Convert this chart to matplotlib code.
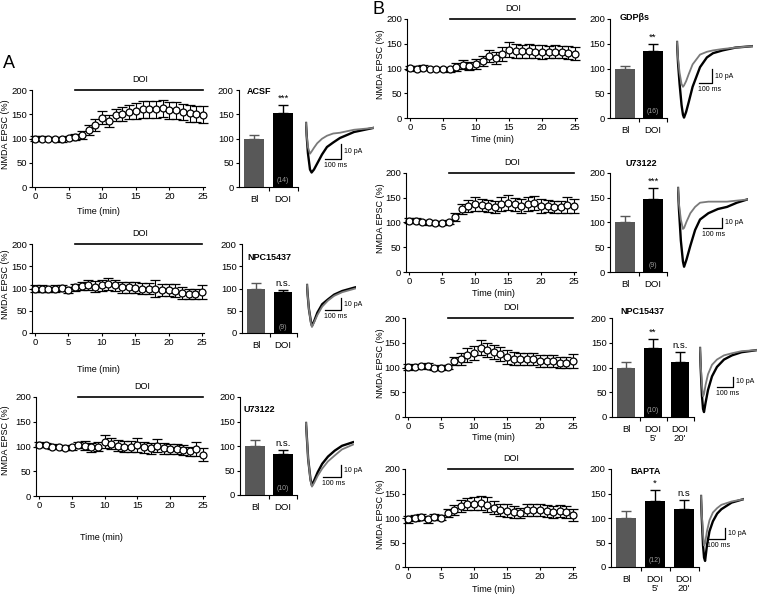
import matplotlib
matplotlib.use('Agg')
import matplotlib.pyplot as plt

plt.rcParams['font.family'] = ['Liberation Sans', 'DejaVu Sans']

# ---------------- data ----------------
time_min = list(range(26))

a1_mean = [100, 100, 100, 100, 98, 101, 103, 108, 118, 128, 143, 136, 148, 150, 155, 157, 160, 160, 160, 162, 158, 158, 155, 152, 150, 149]
a1_sem = [6, 5, 4, 4, 5, 5, 6, 8, 10, 12, 14, 12, 12, 14, 15, 16, 17, 17, 17, 17, 17, 17, 17, 17, 17, 18]
a2_mean = [100, 100, 98, 100, 101, 97, 103, 105, 108, 104, 107, 110, 107, 103, 103, 102, 100, 100, 100, 97, 97, 95, 90, 88, 88, 92]
a2_sem = [8, 7, 6, 7, 7, 7, 8, 9, 12, 12, 12, 13, 13, 12, 12, 12, 12, 12, 18, 14, 14, 14, 14, 12, 12, 15]
a3_mean = [104, 103, 100, 100, 96, 98, 103, 102, 98, 100, 110, 106, 102, 100, 100, 103, 98, 96, 102, 96, 95, 95, 93, 90, 95, 83]
a3_sem = [6, 5, 5, 4, 4, 5, 7, 10, 10, 10, 13, 12, 12, 12, 11, 15, 12, 12, 14, 12, 10, 10, 10, 10, 14, 13]
b1_mean = [101, 100, 102, 100, 100, 98, 98, 103, 108, 105, 110, 115, 125, 122, 130, 138, 135, 135, 136, 134, 134, 133, 134, 133, 132, 130]
b1_sem = [5, 5, 5, 4, 4, 4, 5, 8, 10, 9, 10, 10, 12, 12, 14, 15, 14, 13, 14, 13, 14, 12, 13, 12, 13, 13]
b2_mean = [104, 104, 101, 100, 99, 99, 101, 112, 127, 133, 138, 136, 133, 132, 137, 140, 137, 133, 137, 140, 133, 133, 132, 132, 136, 134]
b2_sem = [6, 6, 5, 5, 4, 4, 5, 8, 10, 12, 14, 12, 12, 12, 14, 15, 13, 14, 14, 14, 14, 12, 12, 12, 16, 14]
b3_mean = [101, 101, 103, 103, 99, 100, 101, 113, 118, 125, 130, 140, 135, 132, 128, 122, 118, 118, 117, 117, 114, 113, 114, 110, 110, 113]
b3_sem = [6, 5, 5, 6, 5, 5, 5, 8, 12, 14, 14, 15, 14, 14, 14, 14, 13, 12, 12, 12, 12, 12, 12, 12, 12, 14]
b4_mean = [97, 100, 102, 97, 102, 101, 110, 117, 124, 128, 129, 130, 127, 121, 116, 115, 112, 110, 117, 116, 116, 114, 113, 115, 113, 106]
b4_sem = [7, 6, 7, 7, 6, 6, 8, 10, 12, 12, 13, 14, 15, 13, 12, 13, 12, 11, 12, 12, 12, 12, 12, 12, 12, 12]

bar_labels_2 = ['Bl', 'DOI']
bar_labels_3 = ['Bl', "DOI\n5'", "DOI\n20'"]
a1_bar = [100, 152]; a1_bar_err = [8, 18]; a1_sig = ['', '***']; a1_n = '(14)'
a2_bar = [100, 92]; a2_bar_err = [12, 5]; a2_sig = ['', 'n.s.']; a2_n = '(9)'
a3_bar = [100, 83]; a3_bar_err = [13, 9]; a3_sig = ['', 'n.s.']; a3_n = '(10)'
b1_bar = [100, 136]; b1_bar_err = [6, 14]; b1_sig = ['', '**']; b1_n = '(16)'
b2_bar = [100, 147]; b2_bar_err = [14, 23]; b2_sig = ['', '***']; b2_n = '(9)'
b3_bar = [100, 139, 112]; b3_bar_err = [12, 18, 20]; b3_sig = ['', '**', 'n.s.']; b3_n = '(10)'
b4_bar = [100, 135, 118]; b4_bar_err = [14, 22, 18]; b4_sig = ['', '*', 'n.s']; b4_n = '(12)'

# example EPSC traces (ms, pA relative to start)
a1_t = [0, 4, 12, 25, 35, 50, 70, 100, 131, 170, 212, 300, 420]
a1_grey = [0, -8, -16, -20.5, -19, -16.5, -13.5, -10.5, -8.5, -7, -6.5, -4.5, -3.3]
a1_black = [0, -8, -20, -31, -33, -31, -27, -21, -16, -13, -10, -6, -3.3]
a2_t = [0, 4, 12, 25, 31, 45, 65, 95, 131, 170, 220, 300]
a2_grey = [0, -8, -20, -32, -35, -31, -25, -18, -13, -9, -6, -3]
a2_black = [0, -8, -20, -31, -34, -30, -23, -16, -12, -8, -5, -2]
a3_t = [0, 4, 12, 25, 33, 45, 65, 90, 122, 160, 200, 261]
a3_grey = [0, -10, -30, -48, -53, -50, -44, -38, -32, -27, -22, -18]
a3_black = [0, -10, -30, -47, -52, -48, -41, -34, -28, -23, -19, -16]
b1_t = [0, 8, 20, 35, 46, 54, 70, 90, 120, 177, 230, 277, 350, 450, 577]
b1_grey = [0, -12, -22, -30, -32, -31, -28, -23, -16, -9, -7, -6, -5, -4, -3]
b1_black = [0, -15, -30, -45, -52, -54, -50, -43, -32, -18, -11, -8, -6, -4, -3]
b2_t = [0, 5, 15, 26, 32, 45, 65, 90, 116, 160, 210, 258, 310, 363]
b2_grey = [0, -15, -30, -39, -38, -32, -24, -18, -14, -13, -13, -13, -12, -11]
b2_black = [0, -20, -50, -70, -75, -68, -55, -40, -30, -24, -20, -18, -14, -11]
b3_t = [0, 4, 12, 19, 25, 35, 50, 75, 106, 150, 200, 260, 356]
b3_grey = [0, -15, -35, -46, -44, -35, -25, -16, -11, -7, -5, -3, -2]
b3_black = [0, -18, -45, -58, -61, -52, -40, -27, -18, -11, -7, -4, -2]
b4_t = [0, 4, 12, 18, 24, 35, 50, 70, 95, 120, 180, 247]
b4_grey = [0, -15, -35, -45, -43, -32, -22, -15, -11, -8, -5, -3]
b4_black = [0, -18, -45, -56, -59, -45, -32, -23, -16, -12, -6, -3]

# ---------------- layout helpers ----------------
W, H = 757, 596
fig = plt.figure(figsize=(W / 100, H / 100), dpi=100)
fig.patch.set_facecolor('white')

BL_GREY = '#585858'
TR_GREY = '#7a7a7a'
FS_TICK = 6.8
FS_LAB = 6.5


def px_axes(l, t, r, b):
    return fig.add_axes([l / W, 1 - b / H, (r - l) / W, (b - t) / H])


def cal_axes(xlim, ylim, xd0, xp0, xd1, xp1, yd0, yp0, yd1, yp1):
    fx = lambda d: xp0 + (d - xd0) * (xp1 - xp0) / (xd1 - xd0)
    fy = lambda d: yp0 + (d - yd0) * (yp1 - yp0) / (yd1 - yd0)
    ax = px_axes(fx(xlim[0]), fy(ylim[1]), fx(xlim[1]), fy(ylim[0]))
    ax.set_xlim(xlim)
    ax.set_ylim(ylim)
    ax.patch.set_alpha(0)
    return ax


def ftext(x, y, s, **kw):
    fig.text(x / W, 1 - y / H, s, **kw)


def style(ax):
    for s in ('top', 'right'):
        ax.spines[s].set_visible(False)
    for s in ('left', 'bottom'):
        ax.spines[s].set_linewidth(0.8)


def time_panel(cal, mean, sem, ylab_y, tlab):
    x0, x25, y0, y200 = cal
    ax = cal_axes((-0.4, 25.3), (0, 200), 0, x0, 25, x25, 0, y0, 200, y200)
    style(ax)
    ax.errorbar(time_min, mean, yerr=sem, fmt='o', mfc='white', mec='black',
                mew=0.9, ms=5, ecolor='black', elinewidth=0.8, capsize=3.5,
                capthick=0.8, clip_on=False)
    ax.plot([6, 25], [201, 201], color='black', lw=1.2, clip_on=False)
    ax.annotate('DOI', (15.7, 201), xytext=(0, 7.5), textcoords='offset points',
                ha='center', va='center', fontsize=FS_LAB)
    ax.set_xticks([0, 5, 10, 15, 20, 25])
    ax.set_yticks([0, 50, 100, 150, 200])
    ax.tick_params(direction='out', length=2.5, width=0.8, labelsize=FS_TICK, pad=1.2)
    ftext(ylab_y[0], ylab_y[1], 'NMDA EPSC (%)', rotation=90, ha='center',
          va='center', fontsize=FS_LAB)
    ftext(tlab[0], tlab[1], 'Time (min)', ha='center', va='center', fontsize=FS_LAB)
    return ax


def bar_panel(cal, labels, vals, errs, sigs, ncount, title, tpos):
    c0, c1, y0, y200 = cal
    n = len(vals)
    ax = cal_axes((-0.52, n - 0.5), (0, 200), 0, c0, 1, c1, 0, y0, 200, y200)
    style(ax)
    colors = [BL_GREY] + ['black'] * (n - 1)
    xs = list(range(n))
    ax.bar(xs, vals, width=0.68, color=colors, zorder=2)
    for i in xs:
        ax.errorbar([i], [vals[i]], yerr=[[0], [errs[i]]], fmt='none',
                    ecolor=colors[i], elinewidth=1.0, capsize=3.5, capthick=1.0,
                    zorder=1)
        if sigs[i]:
            ax.annotate(sigs[i], (i, vals[i] + errs[i]), xytext=(0, 1.5),
                        textcoords='offset points', ha='center', va='bottom',
                        fontsize=FS_TICK)
    ax.text(1, 13, ncount, ha='center', va='center', fontsize=5, color='#9a9a9a')
    ax.set_yticks([0, 50, 100, 150, 200])
    ax.set_xticks(xs)
    ax.set_xticklabels(labels, linespacing=1.0)
    ax.set_xticks([i + 0.5 for i in xs], minor=True)
    ax.tick_params(axis='x', which='major', length=0, labelsize=FS_TICK, pad=6)
    ax.tick_params(axis='x', which='minor', length=3, width=0.8, direction='out')
    ax.tick_params(axis='y', direction='out', length=2.5, width=0.8,
                   labelsize=FS_TICK, pad=1.2)
    ftext(tpos[0], tpos[1], title, ha='left', va='center', fontsize=FS_LAB,
          fontweight='bold')
    return ax


def trace_panel(origin, sx, sy, t, grey, black, corner):
    ox, oy = origin
    tmin, tmax = -5, max(t) + 5
    imin, imax = min(black + grey) - 5, 5
    ax = px_axes(ox + tmin * sx, oy - imax * sy, ox + tmax * sx, oy - imin * sy)
    ax.set_xlim(tmin, tmax)
    ax.set_ylim(imin, imax)
    ax.axis('off')
    ax.plot(t, black, color='black', lw=1.7, solid_joinstyle='round')
    ax.plot(t, grey, color=TR_GREY, lw=1.3, solid_joinstyle='round')
    tb = (corner[0] - ox) / sx
    ib = -(corner[1] - oy) / sy
    ax.plot([tb - 100, tb, tb], [ib, ib, ib + 10], color='black', lw=0.9,
            clip_on=False)
    ax.annotate('10 pA', (tb, ib + 5), xytext=(2.5, 0), textcoords='offset points',
                ha='left', va='center', fontsize=5)
    ax.annotate('100 ms', (tb - 100, ib), xytext=(-1, -2), textcoords='offset points',
                ha='left', va='top', fontsize=5)


# ---------------- panel A ----------------
time_panel((35, 203, 187, 90), a1_mean, a1_sem, (6, 134), (98, 211))
bar_panel((254, 283, 187, 90), bar_labels_2, a1_bar, a1_bar_err, a1_sig, a1_n, 'ACSF', (247, 91))
trace_panel((306, 123), 0.16, 1.5, a1_t, a1_grey, a1_black, (341, 159))

time_panel((35, 202, 333, 244), a2_mean, a2_sem, (6, 284), (98, 370))
bar_panel((256, 283, 333, 244), bar_labels_2, a2_bar, a2_bar_err, a2_sig, a2_n, 'NPC15437', (247, 257))
trace_panel((307, 285), 0.16, 1.2, a2_t, a2_grey, a2_black, (341, 310))

time_panel((39, 203, 496, 397), a3_mean, a3_sem, (6, 440), (101, 537))
bar_panel((255, 283, 495, 397), bar_labels_2, a3_bar, a3_bar_err, a3_sig, a3_n, 'U73122', (243, 409))
trace_panel((306, 423), 0.18, 1.2, a3_t, a3_grey, a3_black, (341, 477))

# ---------------- panel B ----------------
time_panel((410, 575, 118, 19), b1_mean, b1_sem, (381, 64), (492, 140))
bar_panel((625, 653, 118, 19), bar_labels_2, b1_bar, b1_bar_err, b1_sig, b1_n, 'GDP\u03b2s', (620, 17))
trace_panel((677, 42), 0.13, 1.4, b1_t, b1_grey, b1_black, (712, 83))

time_panel((409, 574, 272, 173), b2_mean, b2_sem, (381, 218), (493, 293))
bar_panel((625, 653, 272, 173), bar_labels_2, b2_bar, b2_bar_err, b2_sig, b2_n, 'U73122', (625, 164))
trace_panel((678, 188), 0.19, 1.05, b2_t, b2_grey, b2_black, (722, 228))

time_panel((408, 573, 417, 318), b3_mean, b3_sem, (381, 363), (493, 438))
bar_panel((626, 653, 417, 318), bar_labels_3, b3_bar, b3_bar_err, b3_sig, b3_n, 'NPC15437', (620, 311))
trace_panel((700, 348), 0.16, 1.05, b3_t, b3_grey, b3_black, (733, 387))

time_panel((408, 573, 567, 469), b4_mean, b4_sem, (381, 514), (493, 589))
bar_panel((626, 655, 567, 469), bar_labels_3, b4_bar, b4_bar_err, b4_sig, b4_n, 'BAPTA', (630, 472))
trace_panel((701, 496), 0.17, 1.1, b4_t, b4_grey, b4_black, (725, 539))

ftext(3, 63, 'A', ha='left', va='center', fontsize=13)
ftext(372, 9, 'B', ha='left', va='center', fontsize=13)

fig.savefig('out.png', dpi=100, facecolor='white')
